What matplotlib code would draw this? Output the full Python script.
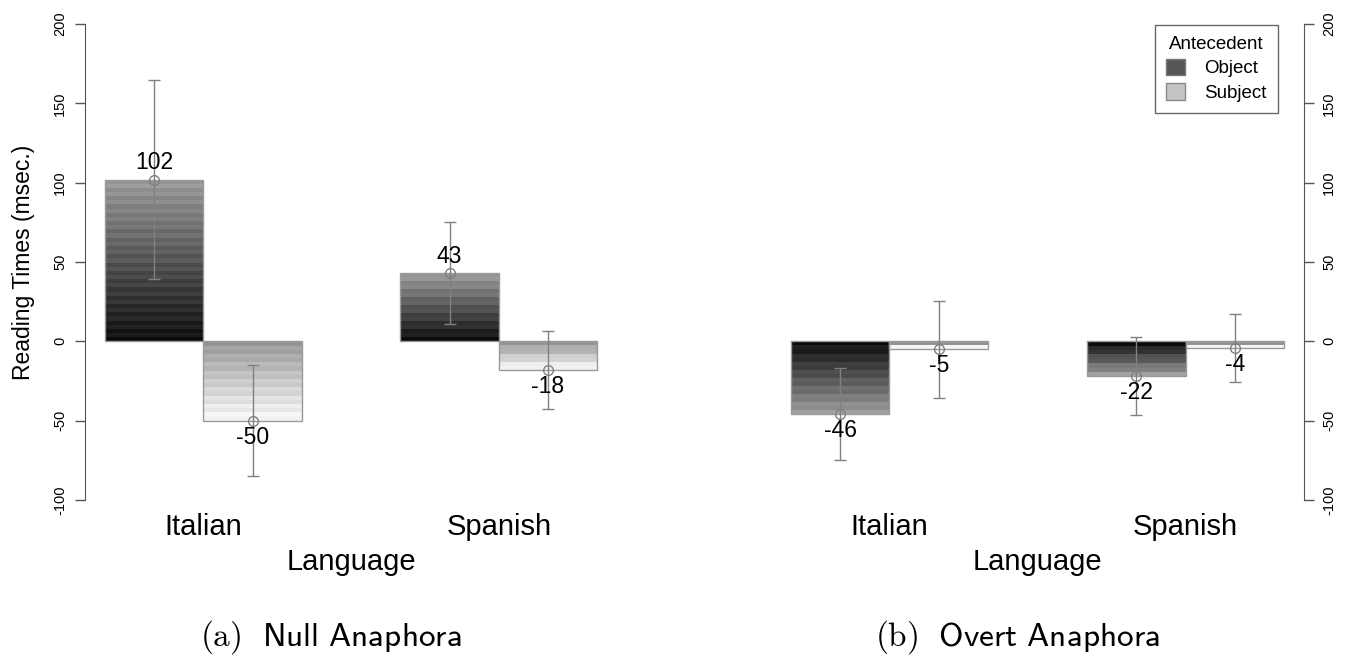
import numpy as np
import matplotlib
matplotlib.use("Agg")
import matplotlib.pyplot as plt
from matplotlib.patches import Patch

plt.rcParams["font.family"] = ["Liberation Sans", "DejaVu Sans"]
plt.rcParams["mathtext.fontset"] = "cm"
plt.rcParams["axes.unicode_minus"] = False

# data
languages = ["Italian", "Spanish"]
antecedents = ["Object", "Subject"]

null_means = {"Object": [102, 43], "Subject": [-50, -18]}
null_err = {"Object": [63, 32], "Subject": [35, 24.5]}
overt_means = {"Object": [-46, -22], "Subject": [-5, -4]}
overt_err = {"Object": [29, 24.5], "Subject": [30.5, 21.5]}

captions = [r"$\mathrm{(a)}\ \ \mathsf{Null\ Anaphora}$",
            r"$\mathrm{(b)}\ \ \mathsf{Overt\ Anaphora}$"]

# gradient (gray level at zero, gray level at bar end) per antecedent
SHADES = {"Object": (0.04, 0.58), "Subject": (0.58, 0.95)}
ERR_COLOR = "#808080"
AXIS_COLOR = "#555555"


def gradient_bar(ax, x, value, shades):
    n = max(2, int(round(abs(value) / 2.6)))
    edges = np.linspace(0, value, n + 1)
    levels = np.linspace(shades[0], shades[1], n)
    for i in range(n):
        g = levels[i] + (0.05 if i % 2 else 0.0)
        g = min(g, 0.97)
        ax.bar(x, edges[i + 1] - edges[i], bottom=edges[i], width=1.0,
               align="edge", color=(g, g, g), linewidth=0, antialiased=False,
               zorder=2)
    ax.bar(x, value, width=1.0, align="edge", fill=False,
           edgecolor="#9a9a9a", linewidth=1.0, zorder=3)


def panel(ax, means, errs, caption, side):
    positions = {"Object": [1, 4], "Subject": [2, 5]}
    for ant in antecedents:
        for j in range(len(languages)):
            x0 = positions[ant][j]
            v = means[ant][j]
            e = errs[ant][j]
            gradient_bar(ax, x0, v, SHADES[ant])
            xc = x0 + 0.5
            ax.errorbar(xc, v, yerr=e, fmt="o", color=ERR_COLOR,
                        mfc="none", ms=7, mew=1, elinewidth=1,
                        capsize=4, capthick=1, zorder=4)
            off = 12 if v > 0 else -12
            ax.annotate(f"{v:d}", (xc, v), xytext=(0, off),
                        textcoords="offset points", ha="center", va="center",
                        fontsize=16.5, zorder=5)

    ax.set_xlim(0.8, 6.2)
    ax.set_ylim(-112, 212)
    ax.set_xticks([2, 5], languages)
    ax.tick_params(axis="x", length=0, pad=-4.5, labelsize=21)
    ax.set_xlabel("Language", fontsize=21, labelpad=5.5)

    for s in ["top", "bottom", "left", "right"]:
        ax.spines[s].set_visible(False)
    ax.spines[side].set_visible(True)
    ax.spines[side].set_bounds(-100, 200)
    ax.spines[side].set_color(AXIS_COLOR)
    ax.yaxis.set_ticks_position(side)
    ax.set_yticks([-100, -50, 0, 50, 100, 150, 200])
    ax.tick_params(axis="y", length=7, width=1, color=AXIS_COLOR,
                   labelsize=10.5, pad=6)
    for lab in ax.get_yticklabels():
        lab.set_rotation(90)
        lab.set_va("center")

    pos = ax.get_position()
    ax.figure.text(pos.x0 + pos.width / 2 - 0.0148, 0.032, caption,
                   ha="center", va="center", fontsize=24)


fig = plt.figure(figsize=(13.54, 6.58), dpi=100)
ax_null = fig.add_axes([0.0628, 0.2112, 0.3929, 0.7812])
ax_overt = fig.add_axes([0.5694, 0.2112, 0.3937, 0.7812])

panel(ax_null, null_means, null_err, captions[0], "left")
panel(ax_overt, overt_means, overt_err, captions[1], "right")

ax_null.set_ylabel("Reading Times (msec.)", fontsize=16.5, labelpad=13)

handles = [Patch(facecolor="#555555", edgecolor="#777777"),
           Patch(facecolor="#c4c4c4", edgecolor="#888888")]
leg = ax_overt.legend(handles, antecedents, title="Antecedent",
                      loc="upper right", bbox_to_anchor=(0.968, 0.98),
                      fontsize=13.5, title_fontsize=13.5, fancybox=False,
                      edgecolor="#666666", framealpha=1,
                      handlelength=1.0, handleheight=1.0,
                      handletextpad=1.0, labelspacing=0.3, borderpad=0.6)
leg.get_frame().set_linewidth(1.0)

fig.savefig("out.png", dpi=100)
